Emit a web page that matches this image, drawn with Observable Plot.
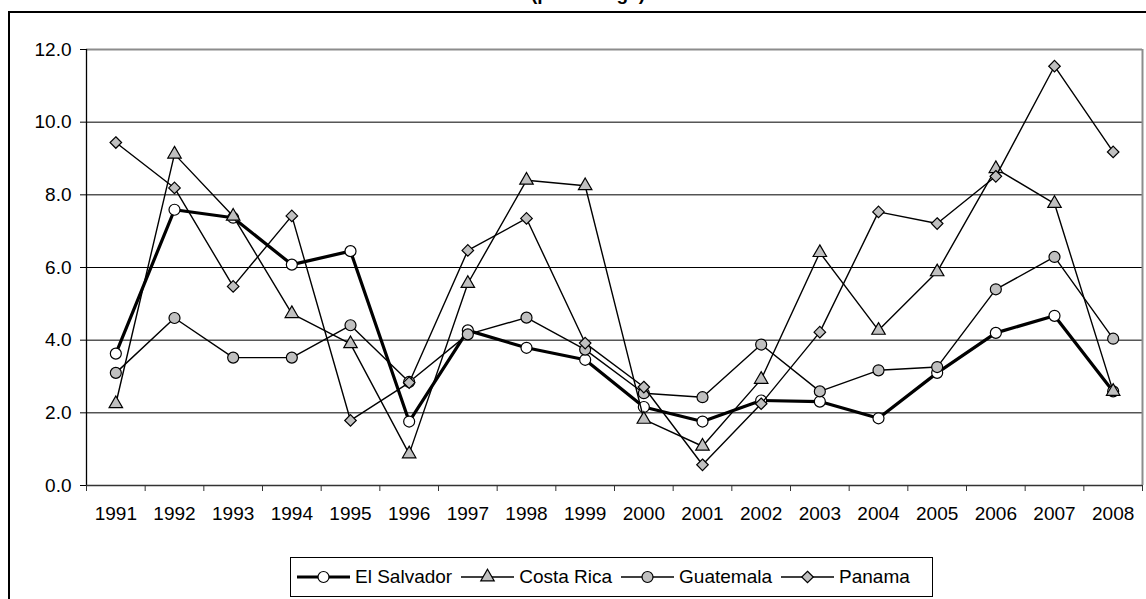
<!DOCTYPE html>
<html>
<head>
<meta charset="utf-8">
<script src="https://cdn.jsdelivr.net/npm/d3@7"></script>
<script src="https://cdn.jsdelivr.net/npm/@observablehq/plot@0.6"></script>
<style>
  body { margin: 0; background: #fff; font-family: Arial, "Liberation Sans", sans-serif; }
  #wrap { position: relative; width: 1146px; height: 599px; overflow: hidden; background: #fff; }
  #frame { position: absolute; left: 8px; top: 11px; width: 1300px; height: 800px; border: 2px solid #000; box-sizing: border-box; }
  #title { position: absolute; top: -17px; left: 15px; width: 1146px; text-align: center; font-weight: bold; font-size: 19px; }
  #chart { position: absolute; left: 0; top: 0; }
  #legend { position: absolute; left: 290px; top: 557px; width: 643px; height: 40px; border: 1px solid #000; box-sizing: border-box;
            display: flex; align-items: center; padding-left: 6px; font-size: 19px; color: #000; background: #fff; }
  .item { display: flex; align-items: center; margin-right: 9px; }
  .item svg { margin-right: 5px; }
</style>
</head>
<body>
<div id="wrap">
  <div id="frame"></div>
  <div id="title">(percentage)</div>
  <div id="chart"></div>
  <div id="legend"></div>
</div>
<script>
// Annual rates by country, 1991–2008
const years = [1991, 1992, 1993, 1994, 1995, 1996, 1997, 1998, 1999, 2000, 2001, 2002, 2003, 2004, 2005, 2006, 2007, 2008];
const elSalvador = [3.63, 7.59, 7.37, 6.08, 6.45, 1.76, 4.27, 3.79, 3.46, 2.16, 1.76, 2.34, 2.31, 1.85, 3.10, 4.20, 4.67, 2.59];
const costaRica  = [2.25, 9.12, 7.41, 4.73, 3.90, 0.87, 5.56, 8.40, 8.25, 1.82, 1.08, 2.92, 6.41, 4.27, 5.88, 8.72, 7.76, 2.59];
const guatemala  = [3.10, 4.61, 3.52, 3.52, 4.41, 2.85, 4.16, 4.62, 3.74, 2.54, 2.43, 3.88, 2.59, 3.17, 3.26, 5.40, 6.29, 4.04];
const panama     = [9.44, 8.19, 5.48, 7.42, 1.79, 2.83, 6.47, 7.35, 3.92, 2.71, 0.57, 2.25, 4.22, 7.53, 7.21, 8.51, 11.54, 9.18];
const seriesNames = ["El Salvador", "Costa Rica", "Guatemala", "Panama"];
const yTicks = [0, 2, 4, 6, 8, 10, 12];

// Visual style of each series: line weight, marker shape and fill
const styles = {
  "El Salvador": {values: elSalvador, lineWidth: 3.2, symbol: "circle",   r: 5.5, fill: "#ffffff"},
  "Costa Rica":  {values: costaRica,  lineWidth: 1.4, symbol: "triangle", r: 5.0, fill: "#c0c0c0"},
  "Guatemala":   {values: guatemala,  lineWidth: 1.4, symbol: "circle",   r: 5.5, fill: "#c0c0c0"},
  "Panama":      {values: panama,     lineWidth: 1.4, symbol: "diamond2", r: 5.2, fill: "#c0c0c0"}
};

const boundaries = d3.range(years[0] - 0.5, years[years.length - 1] + 1, 1);

const seriesMarks = seriesNames.flatMap(name => {
  const s = styles[name];
  const rows = years.map((year, i) => ({year, value: s.values[i], series: name}));
  return [
    Plot.line(rows, {x: "year", y: "value", stroke: "#000", strokeWidth: s.lineWidth, strokeLinejoin: "miter"}),
    Plot.dot(rows, {x: "year", y: "value", symbol: () => s.symbol, r: s.r, fill: s.fill, stroke: "#000", strokeWidth: 1.2})
  ];
});

const chart = Plot.plot({
  width: 1146,
  height: 540,
  marginLeft: 86,
  marginRight: 4,
  marginTop: 49,
  marginBottom: 55,
  style: {fontFamily: "Arial, 'Liberation Sans', sans-serif", fontSize: "19px", color: "#000", background: "transparent"},
  x: {domain: [boundaries[0], boundaries[boundaries.length - 1]]},
  y: {domain: [0, 12]},
  symbol: {type: "identity"},
  marks: [
    Plot.ruleY([2, 4, 6, 8, 10], {stroke: "#000", strokeWidth: 1}),
    Plot.ruleY([12], {stroke: "#8c8c8c", strokeWidth: 2}),
    Plot.ruleX([boundaries[boundaries.length - 1]], {stroke: "#8c8c8c", strokeWidth: 2}),
    Plot.ruleX([boundaries[0]], {stroke: "#000", strokeWidth: 1.3}),
    Plot.ruleY([0], {stroke: "#333", strokeWidth: 1.5}),
    Plot.axisY(yTicks, {tickSize: 6, tickPadding: 9, tickFormat: d => d.toFixed(1), label: null, stroke: "#000"}),
    Plot.axisX(boundaries, {tickSize: 6, tickFormat: () => "", label: null, stroke: "#333"}),
    Plot.axisX(years, {tickSize: 0, tickPadding: 21, tickFormat: d => String(d), label: null}),
    ...seriesMarks
  ]
});
document.getElementById("chart").appendChild(chart);

// Legend: line-and-marker swatch followed by the series name
const legend = d3.select("#legend");
const symbolTypes = {circle: d3.symbolCircle, triangle: d3.symbolTriangle, diamond2: d3.symbolDiamond2};
for (const name of seriesNames) {
  const s = styles[name];
  const item = legend.append("div").attr("class", "item");
  const sw = item.append("svg").attr("width", 53).attr("height", 20);
  sw.append("line").attr("x1", 0).attr("x2", 53).attr("y1", 10).attr("y2", 10)
    .attr("stroke", "#000").attr("stroke-width", s.lineWidth);
  sw.append("path")
    .attr("d", d3.symbol(symbolTypes[s.symbol], Math.PI * s.r * s.r)())
    .attr("transform", "translate(26.5,10)")
    .attr("fill", s.fill).attr("stroke", "#000").attr("stroke-width", 1.2);
  item.append("span").text(name);
}
</script>
</body>
</html>
